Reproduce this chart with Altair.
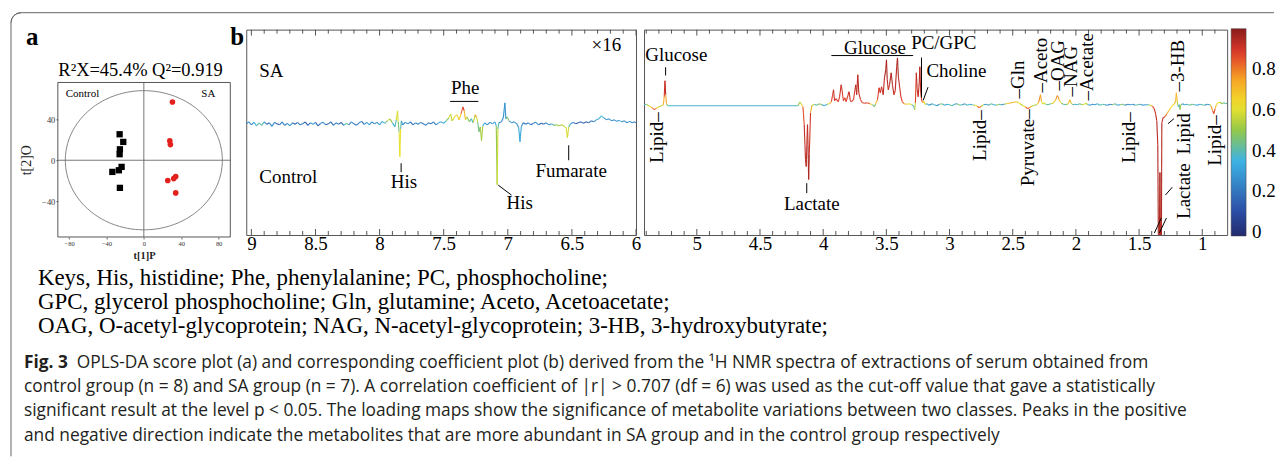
import altair as alt
import numpy as np
import pandas as pd

SERIF = "Liberation Serif"
SANS = "Open Sans"

# ---------------- panel a : OPLS-DA score plot ----------------
control_t1 = [-25.9, -22.0, -25.6, -25.9, -33.7, -26.7, -23.8, -25.6]
control_t2 = [25.4, 17.9, 10.7, 5.9, -11.4, -9.8, -6.5, -27.0]
sa_t1 = [30.6, 27.8, 28.4, 25.6, 32.0, 34.1, 34.1]
sa_t2 = [56.9, 18.9, 15.3, -19.8, -17.9, -15.9, -31.9]
ellipse_radii = [84, 68]
score_x_ticks = [-80, -40, 0, 40, 80]
score_y_ticks = [-40, 0, 40]

# ---------------- panel b : coefficient plot, 9-6 ppm (x16) ----------------
left_ppm = [9.04, 9.02, 9.00, 8.98, 8.96, 8.94, 8.92, 8.90, 8.88, 8.86, 8.84, 8.82, 8.80, 8.78,
            8.76, 8.74, 8.72, 8.70, 8.68, 8.66, 8.64, 8.62, 8.60, 8.58, 8.56, 8.54, 8.52, 8.50,
            8.48, 8.46, 8.44, 8.42, 8.40, 8.38, 8.36, 8.34, 8.32, 8.30, 8.28, 8.26, 8.24, 8.22,
            8.20, 8.18, 8.16, 8.14, 8.12, 8.10, 8.08, 8.06, 8.04, 8.02, 8.00, 7.98, 7.96, 7.94,
            7.92, 7.90, 7.88, 7.87, 7.86, 7.855, 7.848, 7.842, 7.836, 7.83, 7.82, 7.80, 7.78,
            7.76, 7.74, 7.72, 7.70, 7.68, 7.66, 7.64, 7.62, 7.60, 7.58, 7.56, 7.54, 7.52, 7.50,
            7.48, 7.46, 7.445, 7.435, 7.425, 7.41, 7.395, 7.38, 7.365, 7.35, 7.34, 7.33, 7.318,
            7.30, 7.285, 7.27, 7.255, 7.245, 7.235, 7.225, 7.215, 7.205, 7.195, 7.18, 7.16, 7.14,
            7.12, 7.10, 7.09, 7.083, 7.077, 7.07, 7.05, 7.035, 7.023, 7.015, 7.005, 6.99, 6.97,
            6.95, 6.93, 6.915, 6.905, 6.895, 6.88, 6.86, 6.84, 6.82, 6.80, 6.78, 6.76, 6.74,
            6.72, 6.70, 6.68, 6.66, 6.64, 6.62, 6.60, 6.58, 6.56, 6.545, 6.535, 6.525, 6.51,
            6.49, 6.47, 6.45, 6.43, 6.41, 6.39, 6.37, 6.35, 6.33, 6.31, 6.29, 6.27, 6.25, 6.23,
            6.21, 6.19, 6.17, 6.15, 6.13, 6.11, 6.09, 6.07, 6.05, 6.03, 6.01, 6.00]
left_coef = [0, 2, -1, 1.5, -2, 1, -1.5, 2, -0.5, 1, -2.5, 1.5, 0, -1,
             2, -1.5, 0.5, -2, 1, -0.5, 1.5, -1, 0, 2, -1.5, 1, -0.5, 1.5,
             -2, 0.5, 1.5, -1, 0, 2, -1.5, 1, -0.5, 1.5, -1.5, 0.5, -1, 2,
             0, -1.5, 1, 2.5, -0.5, 1.5, -1, 2, 0, 1.5, -1, 2.5, 0.5, 3,
             5, 1, -3, 4, 13, 2, -8, -33, -5, 3, -1, 1.5, 0,
             2, -1, 1, -0.5, 1.5, 0, -1.5, 1, 0, 2, -1, 1, 2, 0.5,
             3, 6, 10, 3, 5, 8, 9, 4, 10, 17, 13, 4, 7,
             2, 5, 1, 9, 7, 2, -8, -3, -17, -2, 1, -1, 1.5,
             0, 2, -2, -61, -5, 1, 2, 6, 21, 5, 7, 3, 1,
             2, 0, -4, -18, -3, 1, -0.5, 1, -1, 0.5, 1.5, -1, 0.5,
             -0.5, 1, -1, 0, -1.5, -1, -2, -1, -2.5, -4, -14, -3, 0,
             1.5, 0, 1, 2, 0.5, 2, 1, 3, 2, 4, 5, 8, 6, 4,
             5, 3, 4, 2.5, 3.5, 2, 3, 1, 2.5, 1, 2, 1]
left_r = [0.3, 0.2, 0.3, 0.2, 0.5, 0.3, 0.55, 0.25, 0.2, 0.15, 0.35, 0.2, 0.1, 0.15,
          0.3, 0.2, 0.15, 0.4, 0.2, 0.1, 0.15, 0.3, 0.15, 0.2, 0.1, 0.25, 0.35, 0.2,
          0.15, 0.2, 0.3, 0.2, 0.1, 0.25, 0.15, 0.3, 0.2, 0.1, 0.2, 0.55, 0.3, 0.2,
          0.25, 0.15, 0.3, 0.2, 0.15, 0.35, 0.3, 0.25, 0.2, 0.3, 0.25, 0.4, 0.3, 0.55,
          0.6, 0.4, 0.3, 0.5, 0.68, 0.5, 0.4, 0.8, 0.45, 0.35, 0.2, 0.25, 0.3,
          0.2, 0.15, 0.3, 0.2, 0.25, 0.15, 0.3, 0.2, 0.15, 0.25, 0.2, 0.3, 0.35, 0.3,
          0.4, 0.55, 0.62, 0.5, 0.6, 0.65, 0.7, 0.6, 0.75, 0.92, 0.85, 0.55, 0.6,
          0.4, 0.45, 0.3, 0.8, 0.75, 0.4, 0.5, 0.4, 0.65, 0.4, 0.3, 0.2, 0.3,
          0.25, 0.3, 0.35, 0.65, 0.5, 0.3, 0.2, 0.3, 0.25, 0.3, 0.55, 0.4, 0.2,
          0.3, 0.25, 0.3, 0.35, 0.3, 0.2, 0.15, 0.3, 0.2, 0.15, 0.3, 0.25, 0.1,
          0.15, 0.3, 0.2, 0.35, 0.45, 0.5, 0.55, 0.5, 0.6, 0.55, 0.65, 0.5, 0.3,
          0.2, 0.15, 0.1, 0.2, 0.15, 0.1, 0.2, 0.15, 0.25, 0.3, 0.35, 0.4, 0.3, 0.2,
          0.35, 0.2, 0.3, 0.2, 0.35, 0.3, 0.2, 0.25, 0.3, 0.2, 0.25, 0.2]

# ---------------- panel b : coefficient plot, 5.4-0.8 ppm ----------------
right_ppm = [5.42, 5.40, 5.38, 5.36, 5.345, 5.335, 5.32, 5.30, 5.28, 5.265, 5.258, 5.252, 5.246,
             5.24, 5.23, 4.20, 4.185, 4.175, 4.16, 4.15, 4.14, 4.134, 4.128, 4.124, 4.12, 4.115,
             4.11, 4.10, 4.09, 4.07, 4.05, 4.03, 4.01, 3.99, 3.97, 3.95, 3.935, 3.925, 3.918,
             3.91, 3.90, 3.88, 3.87, 3.858, 3.85, 3.84, 3.828, 3.818, 3.805, 3.795, 3.785, 3.775,
             3.76, 3.75, 3.742, 3.735, 3.726, 3.718, 3.705, 3.69, 3.67, 3.65, 3.63, 3.61, 3.595,
             3.585, 3.57, 3.558, 3.548, 3.538, 3.525, 3.515, 3.505, 3.499, 3.493, 3.485, 3.475,
             3.462, 3.452, 3.44, 3.43, 3.418, 3.412, 3.405, 3.395, 3.385, 3.375, 3.36, 3.34, 3.32,
             3.30, 3.285, 3.275, 3.27, 3.263, 3.256, 3.248, 3.24, 3.235, 3.228, 3.22, 3.21, 3.204,
             3.195, 3.18, 3.16, 3.14, 3.12, 3.10, 3.08, 3.06, 3.04, 3.02, 3.00, 2.98, 2.96, 2.94,
             2.92, 2.90, 2.88, 2.86, 2.84, 2.82, 2.80, 2.78, 2.765, 2.75, 2.73, 2.71, 2.69, 2.67,
             2.65, 2.63, 2.61, 2.59, 2.57, 2.55, 2.53, 2.51, 2.49, 2.47, 2.455, 2.44, 2.42, 2.40,
             2.385, 2.37, 2.35, 2.33, 2.31, 2.295, 2.28, 2.272, 2.26, 2.25, 2.24, 2.22, 2.20, 2.18,
             2.16, 2.148, 2.14, 2.13, 2.115, 2.10, 2.08, 2.06, 2.048, 2.04, 2.025, 2.01, 1.99,
             1.97, 1.95, 1.935, 1.92, 1.905, 1.89, 1.87, 1.85, 1.83, 1.81, 1.79, 1.77, 1.75, 1.73,
             1.71, 1.69, 1.67, 1.65, 1.63, 1.61, 1.59, 1.57, 1.55, 1.53, 1.51, 1.49, 1.47, 1.45,
             1.43, 1.41, 1.395, 1.38, 1.368, 1.36, 1.352, 1.346, 1.341, 1.335, 1.329, 1.324, 1.32,
             1.31, 1.295, 1.28, 1.265, 1.25, 1.235, 1.22, 1.21, 1.205, 1.198, 1.19, 1.183, 1.176,
             1.168, 1.155, 1.14, 1.12, 1.10, 1.08, 1.06, 1.04, 1.02, 1.00, 0.98, 0.96, 0.94, 0.93,
             0.918, 0.908, 0.898, 0.888, 0.875, 0.86, 0.845, 0.83, 0.815, 0.803]
right_coef = [0, 0.5, -1, -2.5, -4, -5, -3.5, -2, -1, 0, 8, 24, 10,
              1, -1, -1, 2.5, 1, -2, -20, -55, -62, -35, -20, -40, -75,
              -50, -8, -1, 0.5, -0.5, 1, 0, -1, 0.5, 1, 3, 10, 15,
              4, 6, 3, 8, 20, 14, 4, 7, 3, 9, 13, 4, 3,
              5, 14, 20, 10, 30, 12, 5, 2, 1.5, 2, 1, 0, -2,
              1, 5, 17, 12, 18, 10, 27, 35, 45, 25, 15, 20,
              32, 20, 10, 14, 38, 47, 28, 18, 8, 3, 1, 0.5, 1,
              0, -1, -5, 2, 32, 15, 8, 22, 38, 12, 4, 2, 3.5,
              0.5, 1, -0.5, 1, 0, -1, 0.5, 1, -0.5, 0.5, 0, -1, 0.5, 1,
              -0.5, 0, 1, -0.5, 0.5, 0, -0.5, -1.5, -3, -1.5, 0, 0.5, -0.5, 1,
              0, -0.5, 0.5, 0, 0.5, 1, 1.5, 2, 2.5, 3, 2, 1, -1, -2,
              -4, -3, -1.5, -0.5, 0, 2, 10, 3, 0.5, 2, 0.5, 0, 1, 1.5,
              5, 9, 8, 4, 1.5, 0.5, 0, 1, 5, 2, 0, 0.5, 0,
              1, 0, 0.5, 1.5, 0, -0.5, 0.5, 0, 1, -0.5, 0.5, 0, -0.5, 0.5,
              0, 1, -0.5, 0, 0.5, -0.5, 0.5, 0, 0.5, -0.5, 0, 0.5, -0.5, 0,
              0, -0.5, -1.5, -4, -10, -16, -40, -160, -160, -68, -160, -160, -18,
              -13, -12, -9, -6, -3, -1, 1, 4, 12, 3, -2, 0, -5,
              0, 1, 0, 0.5, -0.5, 0.5, 0, -0.5, 0.5, 0, -0.5, 0.5, 0, -1.5,
              -6, -9, -4, 0, 2, 2.5, 1, 2, 1, 1.5]
right_r = [0.3, 0.45, 0.6, 0.7, 0.85, 0.95, 0.7, 0.6, 0.5, 0.6, 0.85, 0.95, 0.9,
           0.6, 0.35, 0.4, 0.6, 0.5, 0.8, 0.9, 0.95, 0.95, 0.9, 0.9, 0.95, 0.95,
           0.95, 0.85, 0.6, 0.5, 0.3, 0.6, 0.4, 0.2, 0.5, 0.6, 0.85, 0.9, 0.92,
           0.9, 0.9, 0.85, 0.9, 0.92, 0.9, 0.88, 0.88, 0.85, 0.9, 0.92, 0.9, 0.85,
           0.88, 0.92, 0.93, 0.9, 0.95, 0.92, 0.9, 0.85, 0.88, 0.9, 0.8, 0.5, 0.35,
           0.6, 0.85, 0.9, 0.9, 0.92, 0.9, 0.95, 0.95, 0.96, 0.95, 0.92, 0.92,
           0.95, 0.93, 0.9, 0.9, 0.95, 0.96, 0.95, 0.92, 0.9, 0.85, 0.8, 0.6, 0.7,
           0.5, 0.35, 0.35, 0.8, 0.93, 0.92, 0.9, 0.93, 0.95, 0.9, 0.85, 0.75, 0.7,
           0.55, 0.45, 0.2, 0.3, 0.5, 0.15, 0.35, 0.6, 0.2, 0.4, 0.3, 0.55, 0.2, 0.35,
           0.6, 0.2, 0.3, 0.5, 0.25, 0.4, 0.55, 0.75, 0.9, 0.7, 0.4, 0.2, 0.35, 0.5,
           0.25, 0.4, 0.6, 0.2, 0.3, 0.65, 0.7, 0.75, 0.7, 0.7, 0.65, 0.6, 0.5, 0.75,
           0.9, 0.8, 0.7, 0.4, 0.6, 0.75, 0.8, 0.7, 0.5, 0.65, 0.55, 0.3, 0.5, 0.6,
           0.75, 0.8, 0.8, 0.7, 0.6, 0.35, 0.4, 0.6, 0.75, 0.7, 0.4, 0.2, 0.5,
           0.3, 0.6, 0.55, 0.65, 0.4, 0.2, 0.35, 0.15, 0.5, 0.25, 0.6, 0.2, 0.3, 0.15,
           0.4, 0.55, 0.2, 0.35, 0.6, 0.25, 0.15, 0.4, 0.2, 0.3, 0.55, 0.25, 0.3, 0.2,
           0.4, 0.6, 0.8, 0.9, 0.92, 0.93, 0.94, 0.95, 0.95, 0.95, 0.95, 0.95, 0.93,
           0.9, 0.88, 0.75, 0.7, 0.65, 0.6, 0.7, 0.72, 0.75, 0.65, 0.4, 0.3, 0.55,
           0.5, 0.3, 0.2, 0.5, 0.3, 0.6, 0.25, 0.4, 0.2, 0.55, 0.3, 0.15, 0.4, 0.7,
           0.85, 0.9, 0.8, 0.6, 0.65, 0.6, 0.4, 0.55, 0.3, 0.5]

left_major_ticks = [9, 8.5, 8, 7.5, 7, 6.5, 6]
right_major_ticks = [5, 4.5, 4, 3.5, 3, 2.5, 2, 1.5, 1]
colorbar_labels = [0, 0.2, 0.4, 0.6, 0.8]

# jet-like colour map of |r|
jet_stops = [-0.02, 0.1, 0.35, 0.5, 0.62, 0.75, 0.88, 1.0]
jet_colors = ["#232a6b", "#2b4ea6", "#3db3e3", "#93c84a", "#f1e32c", "#f6a425", "#df3a2b", "#8a1b1b"]

left_labels_left = [("SA", 8.938, 46.8), ("Control", 8.938, -59.8)]
left_labels_right = [("×16", 6.116, 73.5)]
left_labels_center = [("His", 7.81, -64.8), ("Phe", 7.333, 29.5), ("His", 6.907, -85.8),
                      ("Fumarate", 6.506, -53.2)]
left_leaders = [(7.832, -39.5, 7.832, -48.5), (7.450, 22.5, 7.230, 22.5),
                (7.075, -61.5, 6.971, -71.5), (6.525, -21.5, 6.525, -36.5)]

right_labels_center = [("Glucose", 5.162, 44.3), ("Lactate", 4.09, -105.7), ("Glucose", 3.59, 51.3)]
right_labels_left = [("PC/GPC", 3.304, 56), ("Choline", 3.183, 27.6)]
right_vlabels_down = [("Lipid–", 5.316, -7.7), ("Lipid–", 2.759, -5.7), ("Pyruvate–", 2.381, -4.7),
                      ("Lipid–", 1.576, -7.7), ("Lipid", 1.142, -8.7), ("Lactate", 1.142, -58.7),
                      ("Lipid–", 0.897, -10.7)]
right_vlabels_up = [("–Gln", 2.46, 6.3), ("–Aceto", 2.278, 12.3), ("–OAG", 2.144, 14.3),
                    ("–NAG", 2.041, 8.3), ("–Acetate", 1.915, 4.3), ("–3-HB", 1.189, 13.3)]
right_leaders = [(5.247, 37.6, 5.247, 29.3), (4.130, -78.7, 4.130, -88.7),
                 (3.935, 49.3, 3.288, 49.3), (3.222, 47.3, 3.222, 7.3), (3.209, 4.3, 3.170, 17.6),
                 (1.292, -90.7, 1.237, -82.7), (1.271, -19, 1.224, -14),
                 (1.379, -128.7, 1.324, -113.7), (1.339, -128.7, 1.284, -113.7)]

keys_lines = [
    "Keys, His, histidine; Phe, phenylalanine; PC, phosphocholine;",
    "GPC, glycerol phosphocholine; Gln, glutamine; Aceto, Acetoacetate;",
    "OAG, O-acetyl-glycoprotein; NAG, N-acetyl-glycoprotein; 3-HB, 3-hydroxybutyrate;",
]
caption_head = "Fig. 3"
caption_lines = [
    "OPLS-DA score plot (a) and corresponding coefficient plot (b) derived from the ¹H NMR spectra of extractions of serum obtained from",
    "control group (n = 8) and SA group (n = 7). A correlation coefficient of |r| > 0.707 (df = 6) was used as the cut-off value that gave a statistically",
    "significant result at the level p < 0.05. The loading maps show the significance of metabolite variations between two classes. Peaks in the positive",
    "and negative direction indicate the metabolites that are more abundant in SA group and in the control group respectively",
]

# ------------------------------------------------------------------
cscale = alt.Scale(domain=jet_stops, range=jet_colors, interpolate="rgb")


def ptext(text, x, y, size=19, font=SERIF, align="left", weight="normal", color="black", angle=0,
          baseline="alphabetic"):
    return alt.Chart(pd.DataFrame({"t": [text]})).mark_text(
        align=align, baseline=baseline, fontSize=size, font=font, fontWeight=weight,
        color=color, angle=angle).encode(text="t:N", x=alt.value(x), y=alt.value(y))


def seg_df(ppm, coef, r):
    n = len(ppm)
    return pd.DataFrame({"x": ppm[:-1], "x2": ppm[1:], "y": coef[:-1], "y2": coef[1:],
                         "r": [(r[i] + r[i + 1]) / 2 for i in range(n - 1)]})


def spectrum_panel(ppm, coef, r, xdom, ydom, width, major, texts, leaders, legend):
    H = 206
    xs = alt.Scale(domain=xdom, reverse=True, nice=False, zero=False)
    ys = alt.Scale(domain=ydom, nice=False, zero=False)
    X = alt.X("x:Q", scale=xs, title=None,
              axis=alt.Axis(values=major, format=".1~f", domain=False, ticks=False, grid=False,
                            labelFontSize=19, labelFont=SERIF, labelColor="black", labelPadding=0,
                            labelFlush=False, labelOverlap=False))
    Y = alt.Y("y:Q", scale=ys, axis=None)
    lo, hi = xdom
    minor = [round(v, 1) for v in np.arange(np.ceil(lo * 10) / 10, hi + 1e-9, 0.1)
             if min(abs(v - m) for m in major) > 1e-6]
    layers = []
    for tv, ln in ((major, 6), (minor, 4)):
        tdf = pd.DataFrame({"x": tv})
        layers.append(alt.Chart(tdf).mark_rule(color="#555", strokeWidth=1).encode(
            x=X, y=alt.value(H), y2=alt.value(H - ln)))
        layers.append(alt.Chart(tdf).mark_rule(color="#555", strokeWidth=1).encode(
            x=X, y=alt.value(0), y2=alt.value(ln)))
    layers.append(alt.Chart(seg_df(ppm, coef, r)).mark_rule(clip=True, strokeWidth=1.1).encode(
        x=X, x2="x2:Q", y=Y, y2="y2:Q", color=alt.Color("r:Q", scale=cscale, legend=legend)))
    ldf = pd.DataFrame(leaders, columns=["x", "y", "x2", "y2"])
    layers.append(alt.Chart(ldf).mark_rule(color="black", strokeWidth=1).encode(
        x=X, x2="x2:Q", y=Y, y2="y2:Q"))
    for rows, align, angle in texts:
        if not rows:
            continue
        df = pd.DataFrame(rows, columns=["t", "x", "y"])
        layers.append(alt.Chart(df).mark_text(
            align=align, baseline="alphabetic" if angle == 0 else "middle", angle=angle,
            fontSize=19, font=SERIF, color="black").encode(x=X, y=Y, text="t:N"))
    return alt.layer(*layers).properties(
        width=width, height=H, view=alt.ViewBackground(stroke="#555", strokeWidth=1))


# ---------------- panel a ----------------
AXD = [-92, 92.5]
AYD = [-75, 76]
axs = alt.Scale(domain=AXD, range=[0, 173], nice=False, zero=False)
ays = alt.Scale(domain=AYD, range=[208, 53], nice=False, zero=False)
AX = alt.X("x:Q", scale=axs, axis=alt.Axis(values=score_x_ticks, title="t[1]P", domain=False, grid=False,
                                            tickSize=2, tickColor="#666", labelFontSize=6.5,
                                            labelFont=SERIF, labelColor="#333", labelPadding=2,
                                            titleFont=SERIF, titleFontSize=10.5, titleFontWeight="bold",
                                            titlePadding=3, titleColor="#222"))
AY = alt.Y("y:Q", scale=ays, axis=alt.Axis(values=score_y_ticks, title="t[2]O", domain=False, grid=False,
                                            tickSize=2, tickColor="#666", labelFontSize=8.5,
                                            labelFont=SERIF, labelColor="#333", labelPadding=1,
                                            titleFont=SERIF, titleFontSize=14, titleFontWeight="normal",
                                            titlePadding=8, titleColor="#222"))

scores = pd.DataFrame({"x": control_t1 + sa_t1, "y": control_t2 + sa_t2,
                       "g": ["Control"] * len(control_t1) + ["SA"] * len(sa_t1)})
ang = np.linspace(0, 2 * np.pi, 181)
ellipse = pd.DataFrame({"x": ellipse_radii[0] * np.cos(ang), "y": ellipse_radii[1] * np.sin(ang),
                        "i": np.arange(len(ang))})
frame = pd.DataFrame({"x": [AXD[0]], "x2": [AXD[1]], "y": [AYD[0]], "y2": [AYD[1]]})
cross = pd.DataFrame({"x": [0, AXD[0]], "x2": [0, AXD[1]], "y": [AYD[0], 0], "y2": [AYD[1], 0]})

a_layers = [
    alt.Chart(frame).mark_rect(fillOpacity=0, stroke="#555", strokeWidth=1).encode(
        x=AX, x2="x2:Q", y=AY, y2="y2:Q"),
    alt.Chart(cross).mark_rule(color="#555", strokeWidth=0.8).encode(x=AX, x2="x2:Q", y=AY, y2="y2:Q"),
    alt.Chart(ellipse).mark_line(color="#777", strokeWidth=0.9).encode(x=AX, y=AY, order="i:Q"),
    alt.Chart(scores).transform_filter("datum.g == 'Control'").mark_square(
        size=40, color="black", opacity=1).encode(x=AX, y=AY),
    alt.Chart(scores).transform_filter("datum.g == 'SA'").mark_circle(
        size=32, color="#e3211c", opacity=1).encode(x=AX, y=AY),
    ptext("Control", 8, 68, size=11),
    ptext("SA", 158, 68, size=11, align="right"),
    ptext("R²X=45.4% Q²=0.919", 83, 47, size=18.5, align="center"),
    ptext("a", -32, 15, size=25, weight="bold"),
    ptext("b", 173, 15, size=25, weight="bold"),
    # frame of the whole figure
    alt.Chart(pd.DataFrame({"k": [0]})).mark_rule(color="#666", strokeWidth=1).encode(
        x=alt.value(-37), x2=alt.value(1220), y=alt.value(-17)),
    alt.Chart(pd.DataFrame({"k": [0]})).mark_rule(color="#666", strokeWidth=1).encode(
        x=alt.value(-47), y=alt.value(-7), y2=alt.value(428)),
    alt.Chart(pd.DataFrame({"k": [0]})).mark_arc(
        radius=10, radius2=10, theta=4.7124, theta2=6.2832, fillOpacity=0, stroke="#666",
        strokeWidth=1).encode(x=alt.value(-37), y=alt.value(-7)),
]
for i, line in enumerate(keys_lines):
    a_layers.append(ptext(line, -20, 256 + 24 * i, size=23))
a_layers.append(ptext(caption_head, -34, 339, size=17.4, font=SANS, weight="bold", color="#231f20"))
for i, line in enumerate(caption_lines):
    a_layers.append(ptext(line, 19 if i == 0 else -34, 339 + 24.4 * i, size=17.4, font=SANS,
                          color="#231f20"))

panel_a = alt.layer(*a_layers).properties(width=181, height=208,
                                           view=alt.ViewBackground(stroke="transparent"))

panel_bl = spectrum_panel(
    left_ppm, left_coef, left_r, [6, 9.04], [-111.5, 94.5], 391, left_major_ticks,
    [(left_labels_left, "left", 0), (left_labels_right, "right", 0), (left_labels_center, "center", 0)],
    left_leaders, None)

legend = alt.Legend(title=None, orient="none", legendX=589, legendY=-1, direction="vertical",
                    gradientLength=208, gradientThickness=15, values=colorbar_labels, format=".1~f",
                    labelFontSize=19, labelFont=SERIF, labelColor="black", labelOffset=6,
                    labelBaseline="middle",
                    gradientStrokeColor="#444", gradientStrokeWidth=0.5, padding=0)
panel_br = spectrum_panel(
    right_ppm, right_coef, right_r, [0.803, 5.418], [-130.7, 75.3], 585, right_major_ticks,
    [(right_labels_center, "center", 0), (right_labels_left, "left", 0),
     (right_vlabels_down, "right", 270), (right_vlabels_up, "left", 270)],
    right_leaders, legend)

chart = alt.hconcat(panel_a, panel_bl, panel_br, spacing=8, bounds="flush").resolve_scale(
    x="independent", y="independent", color="independent"
).properties(
    padding={"left": 0, "top": 1, "right": 0, "bottom": 0}
).configure_view(stroke="transparent")

chart.save("out.html", embed_options={"renderer": "svg", "actions": False})
